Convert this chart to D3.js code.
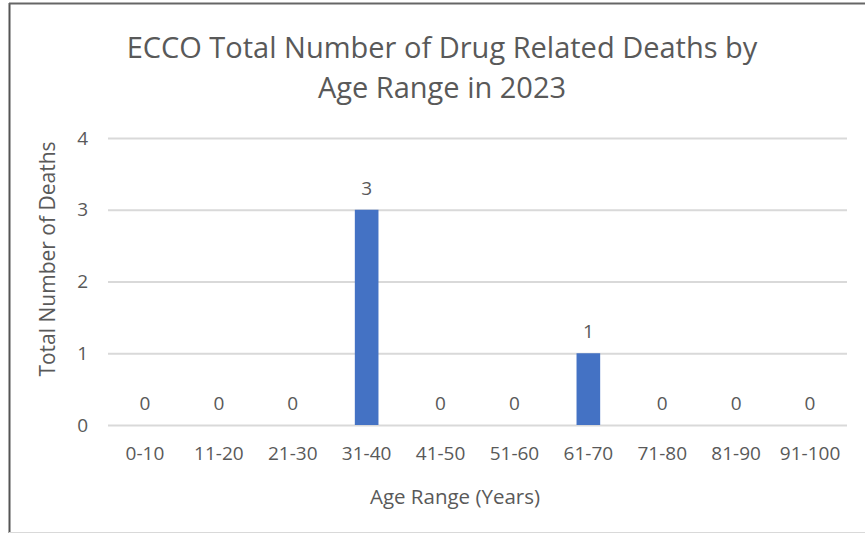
<!DOCTYPE html>
<html>
<head>
<meta charset="utf-8">
<script src="https://cdn.jsdelivr.net/npm/d3@7"></script>
<style>
  body { margin: 0; background: #fff; }
  text { font-family: "Open Sans", sans-serif; fill: #595959; }
</style>
</head>
<body>
<svg width="865" height="533"></svg>
<script>
// data
let ageRanges = ["0-10", "11-20", "21-30", "31-40", "41-50", "51-60", "61-70", "71-80", "81-90", "91-100"];
let deaths = [0, 0, 0, 3, 0, 0, 1, 0, 0, 0];
let yTicks = [0, 1, 2, 3, 4];
let titleLines = ["ECCO Total Number of Drug Related Deaths by", "Age Range in 2023"];

let svg = d3.select("svg");
let margin = {left: 108, right: 18, top: 138, bottom: 108};
let width = +svg.attr("width");
let height = +svg.attr("height");

// outer chart frame
svg.append("line").attr("x1", 9.5).attr("x2", 9.5).attr("y1", 3).attr("y2", 533)
  .attr("stroke", "#555").attr("stroke-width", 2);
svg.append("line").attr("x1", 9).attr("x2", 865).attr("y1", 3.5).attr("y2", 3.5)
  .attr("stroke", "#666").attr("stroke-width", 2);
svg.append("line").attr("x1", 9).attr("x2", 865).attr("y1", 532.5).attr("y2", 532.5)
  .attr("stroke", "#d9d9d9").attr("stroke-width", 1);

let x = d3.scaleBand()
  .domain(ageRanges)
  .range([margin.left, width - margin.right])
  .paddingInner(0.68)
  .paddingOuter(0.34);
let y = d3.scaleLinear()
  .domain([0, 4])
  .range([height - margin.bottom, margin.top]);

// gridlines + y labels
let yAxis = svg.append("g")
  .attr("transform", `translate(${margin.left},0)`)
  .call(d3.axisLeft(y).tickValues(yTicks).tickFormat(d3.format("d"))
    .tickSize(-(width - margin.left - margin.right)).tickPadding(20));
yAxis.select(".domain").remove();
yAxis.selectAll("line").attr("stroke", "#d9d9d9").attr("stroke-width", 2);
yAxis.selectAll("text").attr("font-size", 19).attr("fill", "#595959").style("font-family", "Open Sans");

// x labels
let xAxis = svg.append("g")
  .attr("transform", `translate(0,${height - margin.bottom})`)
  .call(d3.axisBottom(x).tickSize(0).tickPadding(22));
xAxis.select(".domain").remove();
xAxis.selectAll("text").attr("font-size", 19).attr("fill", "#595959").style("font-family", "Open Sans");

svg.append("g")
  .selectAll("rect")
  .data(deaths)
  .enter().append("rect")
    .attr("x", (d, i) => x(ageRanges[i]))
    .attr("width", x.bandwidth())
    .attr("y", d => y(d))
    .attr("height", d => y(0) - y(d))
    .attr("fill", "#4472c4");

svg.append("g")
  .selectAll("text")
  .data(deaths)
  .enter().append("text")
    .attr("x", (d, i) => x(ageRanges[i]) + x.bandwidth() / 2)
    .attr("y", d => y(d) - 15)
    .attr("text-anchor", "middle")
    .attr("font-size", 19)
    .text(d => d);

svg.append("g")
  .selectAll("text")
  .data(titleLines)
  .enter().append("text")
    .attr("x", 442)
    .attr("y", (d, i) => 58 + i * 40)
    .attr("text-anchor", "middle")
    .attr("font-size", 29)
    .text(d => d);

svg.append("text")
  .attr("transform", "translate(55,259) rotate(-90)")
  .attr("text-anchor", "middle")
  .attr("font-size", 21)
  .text("Total Number of Deaths");

svg.append("text")
  .attr("x", 455)
  .attr("y", 504)
  .attr("text-anchor", "middle")
  .attr("font-size", 20.5)
  .text("Age Range (Years)");
</script>
</body>
</html>
